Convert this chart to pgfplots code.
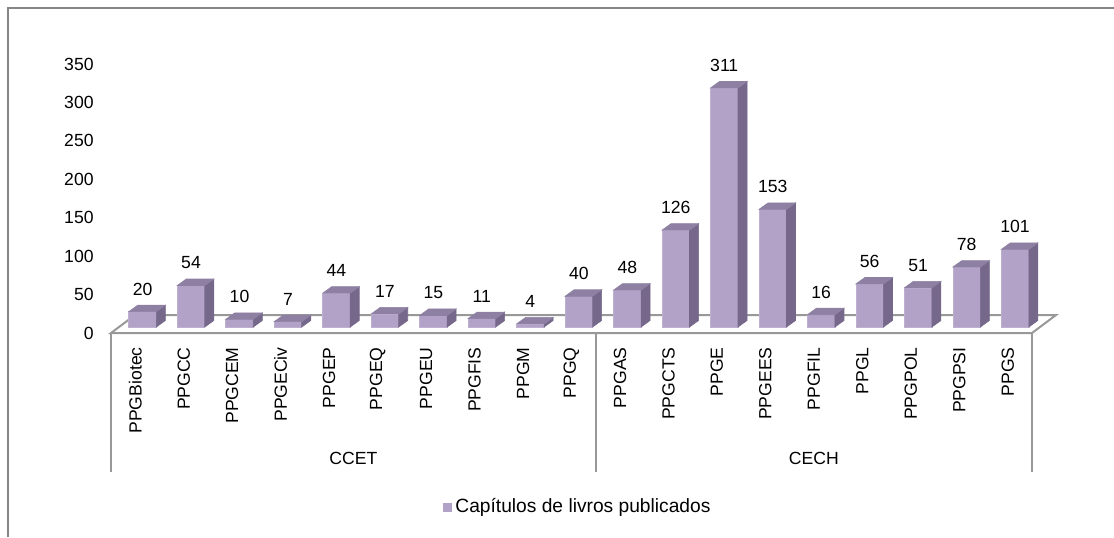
\documentclass[border=0pt]{standalone}
\usepackage{pgfplots}
\pgfplotsset{compat=1.18}
\usepackage{pgfplotstable}
\usepackage{fontspec}
\setmainfont{Liberation Sans}

\definecolor{barfront}{RGB}{179,162,199}
\definecolor{bartop}{RGB}{142,128,162}
\definecolor{barside}{RGB}{118,104,138}
\definecolor{floorline}{RGB}{152,152,152}
\definecolor{framegray}{RGB}{134,134,134}

% Book chapters published per graduate programme
\pgfplotstableread{
idx value
0 20
1 54
2 10
3 7
4 44
5 17
6 15
7 11
8 4
9 40
10 48
11 126
12 311
13 153
14 16
15 56
16 51
17 78
18 101
}\chapters

% 3D bar geometry: x in category units, y in value units
\def\off{0.151}  % front face shift from the category centre
\def\hw{0.284}   % half width of the front face
\def\dx{0.186}   % depth offset, x
\def\dy{8.45}    % depth offset, y
\def\base{7.8}   % bar base above the front edge of the floor

\tikzset{
  front face/.style={fill=barfront, draw=barfront!85!white, line width=0.3pt},
  side face/.style={fill=barside, draw=barside, line width=0.3pt},
  top face/.style={fill=bartop, draw=bartop, line width=0.3pt},
}

\begin{document}
\fontsize{8.8}{10.5}\selectfont
\begin{tikzpicture}
\begin{scope}[x=0.5pt,y=0.5pt]
\path[use as bounding box] (0,0) rectangle (1114,537);
\draw[framegray, line width=0.8pt] (8,0) -- (8,529) -- (1114,529);
% legend
\fill[barfront] (443,25) rectangle (452,34);
\node[anchor=west, inner sep=0pt, font=\fontsize{9.6}{11.5}\selectfont] at (455,29.5) {Capítulos de livros publicados};
\end{scope}
\begin{axis}[
  at={(55.5pt,102pt)}, anchor=south west,
  scale only axis, width=460.5pt, height=134.5pt,
  xmin=-0.5, xmax=18.5, ymin=0, ymax=350,
  clip=false,
  axis line style={draw=none},
  major tick length=0pt,
  /pgf/number format/assume math mode=true,
  ytick={0,50,...,350},
  yticklabel style={anchor=east, inner sep=0pt},
  yticklabel shift=8.5pt,
  xtick={0,...,18},
  xticklabels={PPGBiotec,PPGCC,PPGCEM,PPGECiv,PPGEP,PPGEQ,PPGEU,PPGFIS,PPGM,PPGQ,
               PPGAS,PPGCTS,PPGE,PPGEES,PPGFIL,PPGL,PPGPOL,PPGPSI,PPGS},
  xticklabel style={rotate=90, anchor=east, inner sep=0pt},
  xticklabel shift=7pt,
]
% floor
\addplot[draw=floorline, line width=1pt, fill=white]
  coordinates {(-0.5,0) (18.5,0) (18.995,23.4) (-0.005,23.4)} -- cycle;

% bars
\pgfplotsinvokeforeach{0,...,18}{
  \pgfplotstablegetelem{#1}{value}\of\chapters
  \pgfmathsetmacro\yt{\base+\pgfplotsretval}
  \pgfmathsetmacro\ytb{\yt+\dy}
  \pgfmathsetmacro\yb{\base+\dy}
  \pgfmathsetmacro\xl{#1+\off-\hw}
  \pgfmathsetmacro\xr{#1+\off+\hw}
  \pgfmathsetmacro\xlb{\xl+\dx}
  \pgfmathsetmacro\xrb{\xr+\dx}
  \edef\drawbar{%
    \noexpand\addplot[front face] coordinates {(\xl,\base) (\xr,\base) (\xr,\yt) (\xl,\yt)} -- cycle;
    \noexpand\addplot[side face] coordinates {(\xr,\base) (\xrb,\yb) (\xrb,\ytb) (\xr,\yt)} -- cycle;
    \noexpand\addplot[top face] coordinates {(\xl,\yt) (\xr,\yt) (\xrb,\ytb) (\xlb,\ytb)} -- cycle;
  }\drawbar
}

% value labels
\addplot[draw=none, mark=none, point meta=explicit,
  nodes near coords,
  every node near coord/.append style={anchor=south, inner sep=0pt}]
  table[x expr=\thisrow{idx}+\off, y expr=\thisrow{value}+28.6, meta=value] {\chapters};

% category axis box
\draw[floorline, line width=1pt] (axis cs:-0.5,0) -- (axis cs:-0.5,-181);
\draw[floorline, line width=1pt] (axis cs:9.5,0) -- (axis cs:9.5,-181);
\draw[floorline, line width=1pt] (axis cs:18.5,0) -- (axis cs:18.5,-181);
\node at (axis cs:4.5,-162.6) {CCET};
\node at (axis cs:14,-162.6) {CECH};
\end{axis}
\end{tikzpicture}
\end{document}
